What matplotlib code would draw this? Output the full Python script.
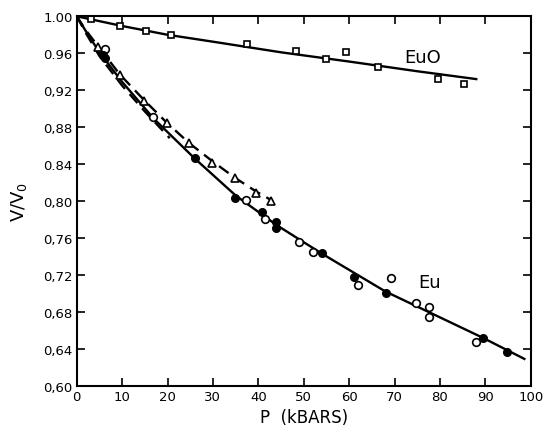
import numpy as np
import matplotlib
matplotlib.use("Agg")
import matplotlib.pyplot as plt

# EuO squares
euo_p = [3.2, 9.6, 15.2, 20.8, 37.4, 48.4, 54.8, 59.3, 66.4, 79.5, 85.2]
euo_v = [0.997, 0.989, 0.984, 0.980, 0.970, 0.962, 0.954, 0.961, 0.945, 0.932, 0.927]
euo_fit_p = [0, 10, 20, 30, 45, 60, 75, 88]
euo_fit_v = [1.000, 0.9895, 0.980, 0.9725, 0.961, 0.951, 0.9405, 0.932]

# Eu filled circles
eu_fill_p = [5.7, 6.2, 26.1, 34.9, 40.8, 43.9, 43.9, 54.0, 61.1, 68.1, 89.4, 94.8]
eu_fill_v = [0.958, 0.955, 0.847, 0.803, 0.788, 0.777, 0.771, 0.744, 0.718, 0.700, 0.652, 0.637]

# Eu open circles
eu_open_p = [6.3, 16.9, 37.2, 41.5, 49.0, 52.1, 62.0, 69.2, 74.7, 77.6, 77.6, 87.9]
eu_open_v = [0.9646, 0.8906, 0.801, 0.780, 0.756, 0.745, 0.709, 0.717, 0.690, 0.685, 0.674, 0.647]
eu_fit_p = [0, 2, 5, 10, 17, 26, 35, 44, 54, 68, 80, 89.4, 98.6]
eu_fit_v = [1.000, 0.984, 0.961, 0.929, 0.889, 0.846, 0.806, 0.774, 0.743, 0.702, 0.674, 0.652, 0.629]

# triangles with dashed curve
tri_p = [4.8, 9.5, 14.9, 19.8, 24.7, 29.9, 34.9, 39.6, 42.8]
tri_v = [0.967, 0.936, 0.9085, 0.884, 0.863, 0.841, 0.825, 0.809, 0.800]
tri_fit_p = [0, 2, 4.8, 9.5, 14.9, 19.8, 24.7, 29.9, 34.9, 39.6, 43.2]
tri_fit_v = [1.000, 0.985, 0.967, 0.937, 0.909, 0.885, 0.863, 0.843, 0.825, 0.810, 0.800]

# second dashed curve, just below the Eu fit
dash2_p = [0, 2, 5, 10, 15, 20.5]
dash2_v = [1.000, 0.982, 0.957, 0.925, 0.897, 0.868]

xticks = [0, 10, 20, 30, 40, 50, 60, 70, 80, 90, 100]
yticks = [0.60, 0.64, 0.68, 0.72, 0.76, 0.80, 0.84, 0.88, 0.92, 0.96, 1.00]
ytick_labels = ["0,60", "0,64", "0,68", "0,72", "0,76", "0,80", "0.84", "0,88",
                "0,92", "0.96", "1.00"]


def main():
    fig = plt.figure(figsize=(5.44, 4.27), dpi=100)
    ax = fig.add_axes([0.141, 0.0944, 0.8346, 0.8651])

    lw = 1.7
    ax.plot(euo_fit_p, euo_fit_v, color="black", lw=lw)
    ax.plot(eu_fit_p, eu_fit_v, color="black", lw=lw)
    ax.plot(tri_fit_p, tri_fit_v, color="black", lw=lw, dashes=(5, 3))
    ax.plot(dash2_p, dash2_v, color="black", lw=lw, dashes=(5, 3))

    ax.plot(euo_p, euo_v, "s", ms=4.5, mfc="white", mec="black", mew=1.2)
    ax.plot(tri_p, tri_v, "^", ms=6, mfc="white", mec="black", mew=1.2)
    ax.plot(eu_open_p, eu_open_v, "o", ms=5.5, mfc="white", mec="black", mew=1.2)
    ax.plot(eu_fill_p, eu_fill_v, "o", ms=5.5, mfc="black", mec="black")

    ax.text(76.3, 0.956, "EuO", fontsize=13, ha="center", va="center")
    ax.text(77.8, 0.712, "Eu", fontsize=13, ha="center", va="center")

    ax.set_xlim(0, 100)
    ax.set_ylim(0.60, 1.00)
    ax.set_xticks(xticks)
    ax.set_yticks(yticks)
    ax.set_yticklabels(ytick_labels)
    ax.tick_params(direction="in", length=6, width=1.2, top=True, right=True,
                   labelsize=9.5, pad=3)
    ax.tick_params(axis="x", labeltop=False)
    for sp in ax.spines.values():
        sp.set_linewidth(1.5)

    ax.set_xlabel("P  (kBARS)", fontsize=12, labelpad=4)
    ax.set_ylabel("V/V$_0$", fontsize=13, labelpad=10)

    fig.savefig("out.png", dpi=100)


if __name__ == "__main__":
    main()
